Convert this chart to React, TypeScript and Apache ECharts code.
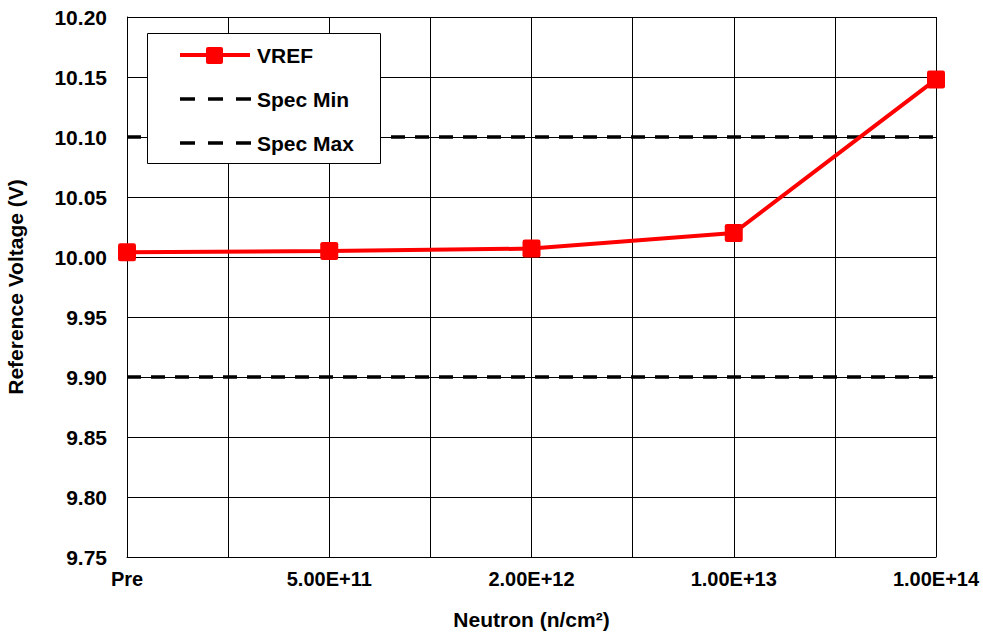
import React, { useEffect, useRef } from "react";
import * as echarts from "echarts";

const categories = ["Pre", "5.00E+11", "2.00E+12", "1.00E+13", "1.00E+14"];
const vrefValues = [10.004, 10.005, 10.007, 10.02, 10.148];
const specMin = 9.9;
const specMax = 10.1;
const yTicks = { min: 9.75, max: 10.2, interval: 0.05 };
const legendNames = ["VREF", "Spec Min", "Spec Max"];

const FONT = "'Liberation Sans', Arial, sans-serif";
const DASH = [14, 10];
const MARKER = "path://M2,0 H14 Q16,0 16,2 V14 Q16,16 14,16 H2 Q0,16 0,14 V2 Q0,0 2,0 Z";

export default function App() {
  const ref = useRef<HTMLDivElement>(null);
  useEffect(() => {
    if (!ref.current) return;
    const chart = echarts.init(ref.current, undefined, { renderer: "svg" });
    const last = categories.length - 1;
    const rowY = [55, 99, 143];
    const legendGraphics: any[] = [
      {
        type: "rect",
        z: 10,
        shape: { x: 147.5, y: 33.5, width: 233, height: 130 },
        style: { fill: "#ffffff", stroke: "#000000", lineWidth: 1 },
      },
      {
        type: "line",
        z: 11,
        shape: { x1: 180, y1: rowY[0], x2: 250, y2: rowY[0] },
        style: { stroke: "#ff0000", lineWidth: 4 },
      },
      {
        type: "rect",
        z: 12,
        shape: { x: 206, y: rowY[0] - 8, width: 17, height: 17, r: 2 },
        style: { fill: "#ff0000" },
      },
      {
        type: "line",
        z: 11,
        shape: { x1: 180, y1: rowY[1], x2: 251, y2: rowY[1] },
        style: { stroke: "#000000", lineWidth: 3.5, lineDash: [15, 13] },
      },
      {
        type: "line",
        z: 11,
        shape: { x1: 180, y1: rowY[2], x2: 251, y2: rowY[2] },
        style: { stroke: "#000000", lineWidth: 3.5, lineDash: [15, 13] },
      },
      ...legendNames.map((n, i) => ({
        type: "text",
        z: 12,
        x: 257,
        y: rowY[i],
        style: {
          text: n,
          fill: "#000",
          font: `bold 21px ${FONT}`,
          verticalAlign: "middle",
          align: "left",
        },
      })),
    ];
    chart.setOption({
      animation: false,
      backgroundColor: "#ffffff",
      textStyle: { fontFamily: FONT },
      grid: {
        left: 127,
        right: 47,
        top: 17,
        bottom: 78,
        containLabel: false,
        outerBoundsMode: "none",
      },
      graphic: legendGraphics,
      xAxis: {
        type: "value",
        min: 0,
        max: last,
        interval: 0.5,
        name: "Neutron (n/cm²)",
        nameLocation: "middle",
        nameGap: 52,
        nameTextStyle: { fontFamily: FONT, fontWeight: "bold", fontSize: 21, color: "#000" },
        axisLine: { show: true, lineStyle: { color: "#000", width: 1 } },
        axisTick: { show: false },
        axisLabel: {
          margin: 12,
          fontFamily: FONT,
          fontWeight: "bold",
          fontSize: 20,
          color: "#000",
          showMaxLabel: true,
          showMinLabel: true,
          hideOverlap: false,
          formatter: (v: number) =>
            Math.abs(v - Math.round(v)) < 1e-6 ? categories[Math.round(v)] ?? "" : "",
        },
        splitLine: { show: true, lineStyle: { color: "#000", width: 1 } },
      },
      yAxis: {
        type: "value",
        min: yTicks.min,
        max: yTicks.max,
        interval: yTicks.interval,
        name: "Reference Voltage (V)",
        nameLocation: "middle",
        nameGap: 101,
        nameTextStyle: { fontFamily: FONT, fontWeight: "bold", fontSize: 21, color: "#000" },
        axisLine: { show: true, lineStyle: { color: "#000", width: 1 } },
        axisTick: { show: false },
        axisLabel: {
          margin: 20,
          fontFamily: FONT,
          fontWeight: "bold",
          fontSize: 21,
          color: "#000",
          formatter: (v: number) => v.toFixed(2),
        },
        splitLine: { show: true, lineStyle: { color: "#000", width: 1 } },
      },
      series: [
        {
          name: "VREF",
          type: "line",
          z: 4,
          data: vrefValues.map((v, i) => [i, v]),
          symbol: MARKER,
          symbolSize: 18,
          lineStyle: { color: "#ff0000", width: 4 },
          itemStyle: { color: "#ff0000" },
        },
        {
          name: "Spec Min",
          type: "line",
          z: 3,
          data: [
            [0, specMin],
            [last, specMin],
          ],
          symbol: "none",
          lineStyle: { color: "#000", width: 3.5, type: DASH },
        },
        {
          name: "Spec Max",
          type: "line",
          z: 3,
          data: [
            [0, specMax],
            [last, specMax],
          ],
          symbol: "none",
          lineStyle: { color: "#000", width: 3.5, type: DASH },
        },
      ],
    });
    return () => chart.dispose();
  }, []);
  return <div ref={ref} style={{ width: 983, height: 635, position: "absolute", left: 0, top: 0 }} />;
}
